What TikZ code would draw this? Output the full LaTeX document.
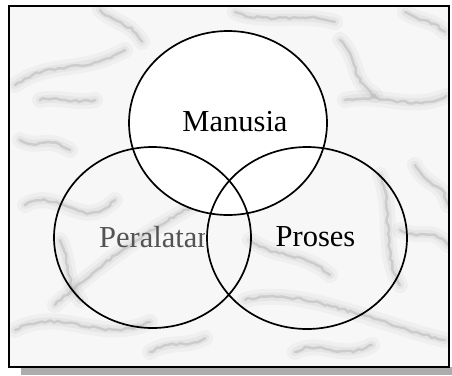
\documentclass[tikz,border=0pt]{standalone}
\usepackage{fontspec}
\setmainfont{Liberation Serif}
\usetikzlibrary{decorations.pathmorphing}
\begin{document}
\begin{tikzpicture}[x=1pt,y=-1pt,
  ring/.style={line width=1.7pt, draw=black},
  lbl/.style={font=\fontsize{30.5}{33}\selectfont, inner sep=0pt},
  veinhaze/.style={draw=gray!60, line width=16pt, opacity=0.10, line cap=round},
  veinwide/.style={draw=gray!60, line width=8pt, opacity=0.16, line cap=round},
  vein/.style={draw=gray!75, line width=2.5pt, opacity=0.35, line cap=round,
    decorate, decoration={random steps, segment length=4pt, amplitude=1.2pt}},
]
\useasboundingbox (0,0) rectangle (452,375);
% shadow and frame
\fill[gray!65] (21,367) rectangle (452,375);
\fill[gray!6] (9,6) rectangle (449,367);
% marble veins
\begin{scope}
\clip (9,6) rectangle (449,367);
\foreach \p in {
  {(15,85) .. controls (50,60) and (80,75) .. (125,50)},
  {(40,100) .. controls (60,96) and (75,104) .. (95,100)},
  {(55,305) .. controls (110,255) and (170,215) .. (225,190)},
  {(25,205) .. controls (60,185) and (80,235) .. (115,200)},
  {(245,300) .. controls (300,285) and (380,325) .. (445,340)},
  {(345,100) .. controls (380,92) and (410,112) .. (446,96)},
  {(380,175) .. controls (395,215) and (380,250) .. (400,285)},
  {(100,10) .. controls (118,25) and (130,22) .. (142,42)},
  {(235,12) .. controls (260,24) and (300,12) .. (335,22)},
  {(405,12) .. controls (420,22) and (430,18) .. (445,32)},
  {(415,165) .. controls (428,190) and (440,178) .. (448,205)},
  {(15,330) .. controls (60,305) and (100,345) .. (150,322)},
  {(295,352) .. controls (320,338) and (340,362) .. (372,345)},
  {(150,352) .. controls (170,340) and (185,348) .. (205,338)},
  {(20,140) .. controls (40,150) and (45,135) .. (70,150)},
  {(400,230) .. controls (420,240) and (430,225) .. (448,245)},
  {(250,240) .. controls (280,260) and (300,250) .. (330,275)},
  {(60,240) .. controls (70,260) and (65,280) .. (80,300)},
  {(340,40) .. controls (360,60) and (350,80) .. (375,95)}}{
  \draw[veinhaze] \p;
  \draw[veinwide] \p;
  \draw[vein] \p;
}
\end{scope}
\draw[line width=2.2pt] (9,6) rectangle (449,367);
% Manusia fill
\fill[white] (228,123) ellipse [x radius=99pt, y radius=92pt];
% labels
\node[lbl] (manusia) at (235,122) {Manusia};
\node[lbl] (proses) at (315.5,237) {Proses};
\begin{scope}[even odd rule]
\clip (0,0) rectangle (452,375) (307,238) ellipse [x radius=103pt, y radius=92pt];
\node[lbl, text=gray!65!black, anchor=west] (peralatan) at (99,237) {Peralatan};
\end{scope}
% rings
\draw[ring] (228,123) ellipse [x radius=99pt, y radius=92pt];
\draw[ring] (152.5,237.5) ellipse [x radius=98.5pt, y radius=90.5pt];
\draw[ring] (307,238) ellipse [x radius=100pt, y radius=91pt];
\end{tikzpicture}
\end{document}
